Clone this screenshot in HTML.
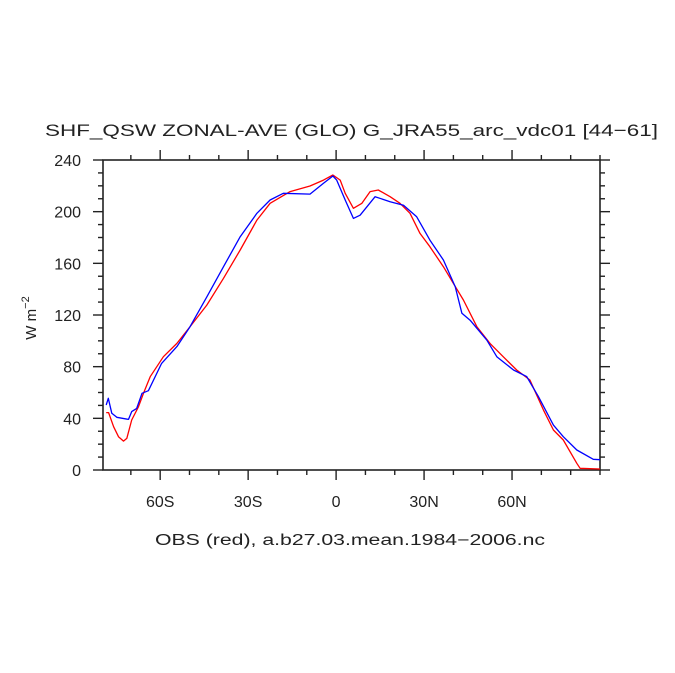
<!DOCTYPE html>
<html><head><meta charset="utf-8"><style>body{margin:0;background:#fff}svg{display:block;font-family:"Liberation Sans",sans-serif}</style></head>
<body>
<svg id="chart" width="675" height="673" viewBox="0 0 675 673" xmlns="http://www.w3.org/2000/svg">
<rect width="675" height="673" fill="#fff"/>
<text x="45" y="136" font-size="17" textLength="613" lengthAdjust="spacingAndGlyphs" fill="#222">SHF_QSW ZONAL-AVE (GLO) G_JRA55_arc_vdc01 [44−61]</text>
<text x="155" y="545" font-size="15.5" textLength="390" lengthAdjust="spacingAndGlyphs" fill="#222">OBS (red), a.b27.03.mean.1984−2006.nc</text>
<text transform="translate(36,318) rotate(-90)" text-anchor="middle" font-size="15" fill="#222">W m<tspan dy="-7" font-size="11">−2</tspan></text>
<g id="axes"></g>
<g id="series"></g>
</svg>
<script>
const xTicks=[-60,-30,0,30,60];
const xTickLabels=["60S","30S","0","30N","60N"];
const yTicks=[0,40,80,120,160,200,240];
const yTickLabels=["0","40","80","120","160","200","240"];
const modelLat=[-78.4,-77.7,-76.5,-74.8,-70.8,-69.7,-68,-66.2,-64,-59.5,-54.3,-49.8,-44.1,-38.4,-32.7,-27,-22.5,-18,-8.9,-4.3,-1.1,0.2,3.1,5.9,8.2,13.3,18.4,23,27.5,32,36.6,40.6,42.9,45.7,51.4,54.8,60.5,65,69,74.1,77.5,82.1,87.7,90];
const modelVal=[50.3,55.5,43.9,40.8,39.2,45.2,47.7,59.4,61.4,82.5,95.5,111,134,157.4,180.6,198.7,209,214.2,213.6,222,227.6,224.4,209,194.8,197.3,211.6,207.7,205,196,178,162.6,142,121.3,116,100.6,87.7,77.4,72.3,56.8,34.8,25.8,15.5,8.3,8];
const obsLat=[-78.4,-77.6,-75.9,-74.2,-72.5,-71.4,-69.7,-67.4,-65.7,-63.4,-58.9,-54.3,-49.8,-44.1,-38.4,-32.7,-27,-22.5,-15.7,-8.9,-4.3,-1.1,1.4,3.1,5.9,8.8,11.6,14.4,18.4,21.8,25.2,28.6,32,36.6,40,43.4,48,52.5,57,61.6,66.1,70.7,74.1,77.5,82.1,83.2,90];
const obsVal=[44.4,44.4,33.5,25.8,22.4,24.5,38.7,49,59.4,72.2,87.7,98,111,127.7,148.4,170.3,193.5,206.5,215.5,219.9,224.4,228.4,224.4,214.2,202.6,206.5,215.5,216.8,211.6,206.5,198.7,183.2,172.9,157.4,144.5,131.6,111,98,87.7,77.4,69.7,46.5,31,23.2,5.2,1.3,0.8];
const L=103,R=600,T=160,B=470,X0=-79.5,X1=90,Y0=0,Y1=240;
const xs=v=>L+(v-X0)/(X1-X0)*(R-L);
const ys=v=>B-(v-Y0)/(Y1-Y0)*(B-T);
const NS="http://www.w3.org/2000/svg";
const ax=document.getElementById('axes'),se=document.getElementById('series');
function mk(tag,attrs,parent){const e=document.createElementNS(NS,tag);for(const k in attrs)e.setAttribute(k,attrs[k]);parent.appendChild(e);return e;}
const frame=mk('rect',{x:L,y:T,width:R-L,height:B-T,fill:'none',stroke:'#222','stroke-width':1.6},ax);


for(let v=-70;v<=90;v+=10){const x=xs(v);const major=xTicks.includes(v);const len=major?10:5;
 const t1=mk('line',{x1:x,x2:x,y1:B,y2:B+len,stroke:'#222','stroke-width':1.4},ax);
 
 
 const t2=mk('line',{x1:x,x2:x,y1:T,y2:T-len,stroke:'#222','stroke-width':1.4},ax);
 
 }
xTicks.forEach((v,i)=>{const t=mk('text',{x:xs(v),y:507,'text-anchor':'middle','font-size':16,fill:'#222'},ax);t.textContent=xTickLabels[i];
 
 });
for(let v=0;v<=240;v+=10){const y=ys(v);const major=yTicks.includes(v);const len=major?10:5;
 const t1=mk('line',{x1:L,x2:L-len,y1:y,y2:y,stroke:'#222','stroke-width':1.4},ax);
 
 
 const t2=mk('line',{x1:R,x2:R+len,y1:y,y2:y,stroke:'#222','stroke-width':1.4},ax);
 
 }
yTicks.forEach((v,i)=>{const t=mk('text',{x:81,y:ys(v)+6,'text-anchor':'end','font-size':16,fill:'#222'},ax);t.textContent=yTickLabels[i];
 
 });
function line(lat,val,color,name){const d=lat.map((v,i)=>(i?'L':'M')+xs(v).toFixed(1)+','+ys(val[i]).toFixed(1)).join('');
 const p=mk('path',{d:d,fill:'none',stroke:color,'stroke-width':1.3,'stroke-linejoin':'round'},se);
 
 }
line(obsLat,obsVal,'#ff0000','obs-line-red');
line(modelLat,modelVal,'#0000ff','model-line-blue');
</script>
</body></html>
